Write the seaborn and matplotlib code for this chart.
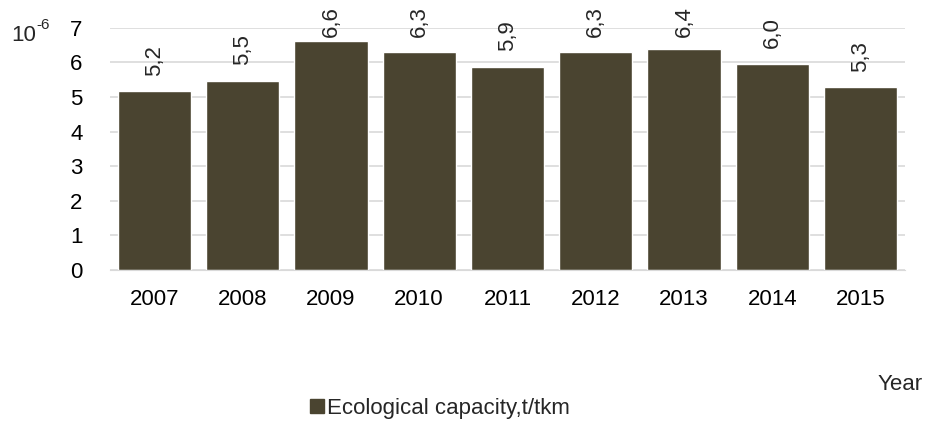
import numpy as np
import pandas as pd
import seaborn as sns
import matplotlib.pyplot as plt
from matplotlib.patches import Patch

years = ["2007", "2008", "2009", "2010", "2011", "2012", "2013", "2014", "2015"]
capacity = [5.17, 5.47, 6.62, 6.30, 5.88, 6.30, 6.40, 5.97, 5.28]
labels = ["5,2", "5,5", "6,6", "6,3", "5,9", "6,3", "6,4", "6,0", "5,3"]

sns.set_style("white")
plt.rcParams['font.family'] = ['Liberation Sans Narrow', 'Liberation Sans', 'DejaVu Sans']

bar_color = "#4a4430"
fs = 16
data = pd.DataFrame({"Year": years, "Capacity": capacity})

fig = plt.figure(figsize=(9.26, 4.23), dpi=100)
ax = fig.add_axes([0.119, 0.362, 0.858, 0.572])
sns.barplot(data=data, x="Year", y="Capacity", color=bar_color, saturation=1, width=0.83, ax=ax)

ax.set_ylim(0, 7)
ax.set_yticks(range(0, 8))
ax.yaxis.grid(True, color="#d9d9d9", linewidth=1.2)
ax.set_axisbelow(True)
for s in ["top", "right", "left"]:
    ax.spines[s].set_visible(False)
ax.spines["bottom"].set_color("#d9d9d9")
ax.tick_params(axis="both", length=0, labelsize=fs, colors="black")
ax.tick_params(axis="y", pad=20)
ax.tick_params(axis="x", pad=14)
ax.set_xlabel("")
ax.set_ylabel("")

# labels sit above the bars, but the tallest ones get pushed down to fit (like excel does)
for i, (v, t) in enumerate(zip(capacity, labels)):
    ax.text(i, min(v + 0.45, 6.75), t, rotation=90, ha="center", va="bottom", fontsize=fs, clip_on=False)

fig.text(0.012, 0.915, "10", fontsize=fs, ha="left", va="center")
fig.text(0.039, 0.94, "-6", fontsize=11, ha="left", va="center")
fig.text(0.996, 0.09, "Year", fontsize=fs, ha="right", va="center")

handle = Patch(facecolor=bar_color, edgecolor=bar_color)
fig.legend([handle], ["Ecological capacity,t/tkm"], loc="center left", bbox_to_anchor=(0.335, 0.035),
           frameon=False, fontsize=fs, handlelength=0.6, handleheight=0.6, handletextpad=0.15,
           borderpad=0, borderaxespad=0)

fig.savefig("out.png", dpi=100)
